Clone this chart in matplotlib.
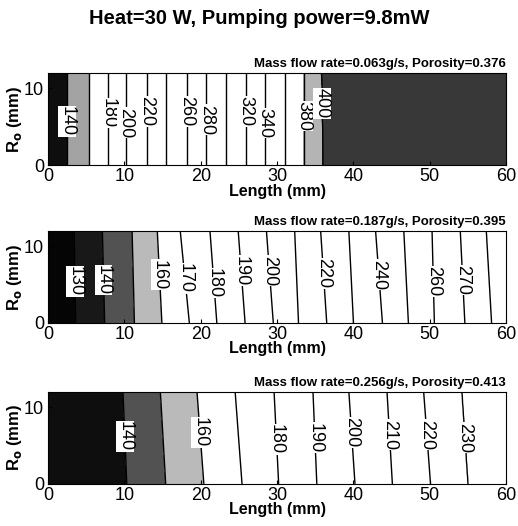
import numpy as np
import matplotlib
matplotlib.use("Agg")
import matplotlib.pyplot as plt
from matplotlib.colors import LinearSegmentedColormap, Normalize

plt.rcParams['font.family'] = ['Liberation Sans', 'DejaVu Sans']

# panel 1: mass flow 0.063 g/s
levels1 = [140, 160, 180, 200, 220, 240, 260, 280, 300, 320, 340, 360, 380, 400]
x_bot1 = [2.5, 5.3, 7.8, 10.2, 12.9, 15.5, 18.2, 20.7, 23.3, 25.9, 28.4, 31.0, 33.5, 36.0]
x_top1 = [2.5, 5.3, 7.8, 10.2, 12.9, 15.5, 18.2, 20.7, 23.3, 25.9, 28.4, 31.0, 33.5, 35.8]
t_ends1 = [120, 420]
lab1 = [140, 180, 200, 220, 260, 280, 320, 340, 380, 400]
lab_y1 = [5.7, 6.8, 5.5, 7.0, 7.0, 5.9, 7.0, 5.5, 6.4, 8.1]

# panel 2: mass flow 0.187 g/s
levels2 = [130, 140, 150, 160, 170, 180, 190, 200, 210, 220, 230, 240, 250, 260, 270, 280]
x_bot2 = [3.6, 7.4, 11.3, 14.9, 18.5, 22.1, 25.8, 29.5, 32.8, 36.5, 40.0, 43.8, 47.2, 50.6, 54.6, 58.1]
x_top2 = [3.4, 7.1, 11.0, 14.3, 17.3, 21.2, 24.9, 28.6, 32.3, 35.7, 39.4, 42.9, 46.6, 50.3, 54.0, 57.4]
t_ends2 = [120, 285]
lab2 = [130, 140, 160, 170, 180, 190, 200, 220, 240, 260, 270]
lab_y2 = [5.4, 5.6, 6.3, 5.8, 5.2, 6.8, 6.8, 6.5, 6.3, 5.4, 5.6]

# panel 3: mass flow 0.256 g/s
levels3 = [140, 150, 160, 170, 180, 190, 200, 210, 220, 230]
x_bot3 = [10.3, 15.4, 20.4, 25.4, 30.2, 35.2, 40.2, 45.1, 50.1, 55.0]
x_top3 = [9.8, 14.7, 19.5, 24.5, 29.6, 34.7, 39.4, 44.4, 49.2, 54.2]
t_ends3 = [120, 235]
lab3 = [140, 160, 180, 190, 200, 210, 220, 230]
lab_y3 = [6.2, 6.7, 5.8, 6.0, 6.7, 6.4, 6.4, 6.0]

titles = ["Mass flow rate=0.063g/s, Porosity=0.376",
          "Mass flow rate=0.187g/s, Porosity=0.395",
          "Mass flow rate=0.256g/s, Porosity=0.413"]

# grayscale look of the scanned colour map
anchors = [(120, 0.02), (125, 0.02), (135, 0.10), (145, 0.33), (150, 0.68),
           (155, 0.74), (163, 1.0), (375, 1.0), (390, 0.72), (400, 0.45),
           (410, 0.22), (420, 0.2)]
tmin, tmax = 120, 420
cmap = LinearSegmentedColormap.from_list(
    "scan", [((t - tmin) / (tmax - tmin), (g, g, g)) for t, g in anchors])
norm = Normalize(tmin, tmax)

fig = plt.figure(figsize=(5.18, 5.26), dpi=100)
bottoms = [0.686, 0.386, 0.080]

panels = [(levels1, x_bot1, x_top1, t_ends1, lab1, lab_y1),
          (levels2, x_bot2, x_top2, t_ends2, lab2, lab_y2),
          (levels3, x_bot3, x_top3, t_ends3, lab3, lab_y3)]

xg = np.linspace(0, 60, 601)
yg = np.linspace(0, 12, 25)

for i, (lev, xb, xt, ends, lab, laby) in enumerate(panels):
    ax = fig.add_axes([0.093, bottoms[i], 0.884, 0.175])
    # temperature field built from the isotherm positions
    T = np.zeros((len(yg), len(xg)))
    for j, y in enumerate(yg):
        f = y / 12.0
        xs = [0.0] + [(1 - f) * b + f * t for b, t in zip(xb, xt)] + [60.0]
        ts = [ends[0]] + list(lev) + [ends[1]]
        T[j] = np.interp(xg, xs, ts)
    fill_lev = [ends[0]] + list(lev) + [ends[1]]
    ax.contourf(xg, yg, T, levels=fill_lev, cmap=cmap, norm=norm)
    ax.contour(xg, yg, T, levels=lev, colors='k', linewidths=1.0)
    # labelled isotherms only (labels sit on a white box over the line)
    cs_lab = ax.contour(xg, yg, T, levels=lab, colors='k', linewidths=0)
    pos = [(np.interp(l, lev, [(b + t) / 2 for b, t in zip(xb, xt)]), y)
           for l, y in zip(lab, laby)]
    texts = ax.clabel(cs_lab, manual=pos, inline=False, fmt='%d', fontsize=13)
    for t in texts:
        t.set_rotation(-90)
        t.set_bbox(dict(fc='white', ec='none', pad=0.2))
    ax.set_xlim(0, 60)
    ax.set_ylim(0, 12)
    ax.set_xticks(range(0, 61, 10))
    ax.set_yticks([0, 10])
    ax.tick_params(direction='in', labelsize=13, length=3)
    ax.tick_params(axis='x', pad=2)
    ax.tick_params(axis='y', pad=3)
    ax.set_xlabel("Length (mm)", fontsize=11.5, fontweight='bold', labelpad=-1)
    ax.set_ylabel(r"R$_\mathbf{o}$ (mm)", fontsize=12, fontweight='bold', labelpad=0)
    ax.text(1.0, 1.03, titles[i], transform=ax.transAxes, ha='right', va='bottom',
            fontsize=9.5, fontweight='bold')

fig.suptitle("Heat=30 W, Pumping power=9.8mW", fontsize=14.5, fontweight='bold', y=0.982)

fig.savefig("out.png", dpi=100)
